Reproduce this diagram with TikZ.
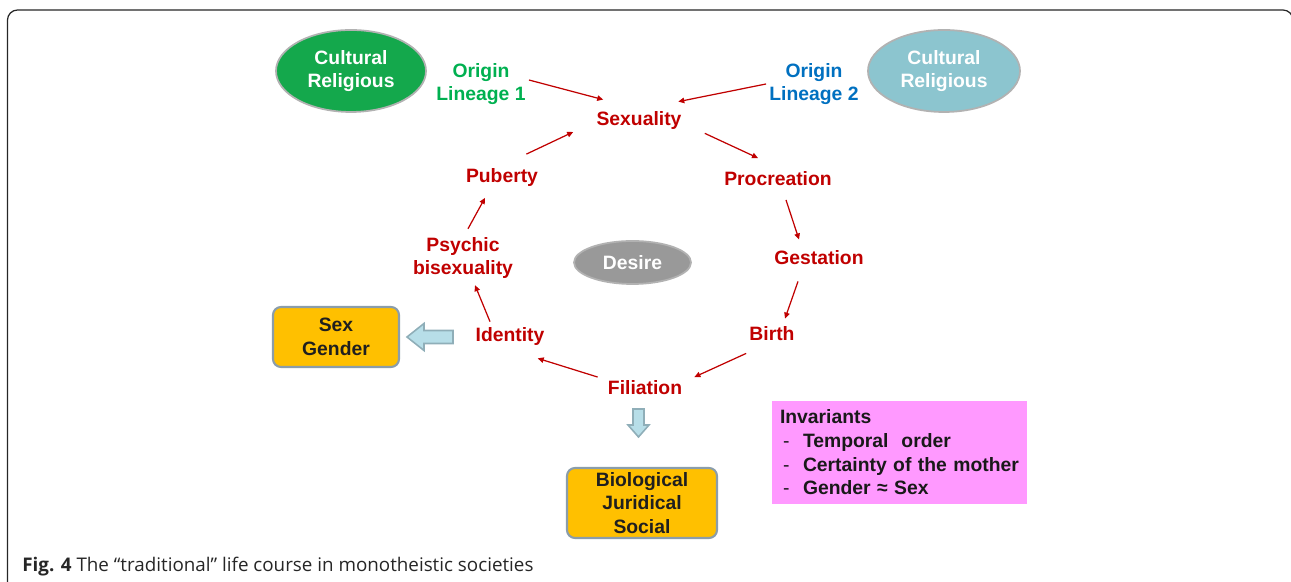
\documentclass[tikz,border=0pt]{standalone}
\usepackage{fontspec}
\setmainfont{Liberation Sans}
\newfontfamily\capfont{Open Sans}
\usetikzlibrary{arrows.meta,shapes.geometric}

\definecolor{lifered}{HTML}{C00000}
\definecolor{linegreen}{HTML}{00B050}
\definecolor{lineblue}{HTML}{0070C0}
\definecolor{ellgreen}{HTML}{14A84C}
\definecolor{ellblue}{HTML}{8CC5CF}
\definecolor{ellgray}{HTML}{999999}
\definecolor{boxyellow}{HTML}{FFC000}
\definecolor{boxedge}{HTML}{8A9DAB}
\definecolor{invpink}{HTML}{FF99FF}
\definecolor{hollowfill}{HTML}{B7DEE8}
\definecolor{hollowedge}{HTML}{8FAEB8}

\newcommand{\invdash}{\makebox[0.46cm][l]{\hspace{0.06cm}\textmd{-}}}

\tikzset{
    txt/.style={font=\bfseries\fontsize{11}{13.5}\selectfont, align=center, inner sep=0.06cm},
    stage/.style={txt, text=lifered},
    ell/.style={txt, ellipse, draw=gray!60, line width=1pt, text=white, inner sep=0pt},
    yellowbox/.style={txt, rounded corners=0.16cm, fill=boxyellow, draw=boxedge, line width=1.2pt, text=black!88},
    redarrow/.style={draw=lifered, line width=0.7pt, -{Triangle[length=1.2mm,width=1.1mm]}},
    hollow/.style={fill=hollowfill, draw=hollowedge, line width=0.9pt}
}

\begin{document}
\begin{tikzpicture}
                \useasboundingbox (0,0) rectangle (25.82,11.64);
                \clip (0,0) rectangle (25.82,11.64);

                \draw[line width=0.7pt, black!85, rounded corners=0.2cm] (0.15,-0.5) -- (0.15,11.44) -- (25.86,11.44) -- (25.86,-0.5);

                \node[ell, fill=ellgreen, minimum width=3cm, minimum height=1.64cm] (cult1) at (7.02,10.22) {Cultural\\Religious};
                \node[ell, fill=ellblue, minimum width=3.04cm, minimum height=1.64cm] (cult2) at (18.88,10.22) {Cultural\\Religious};
                \node[ell, fill=ellgray, minimum width=2.34cm, minimum height=0.86cm] (desire) at (12.65,6.39) {Desire};

                \node[txt, text=linegreen] (orig1) at (9.62,9.96) {Origin\\Lineage 1};
                \node[txt, text=lineblue] (orig2) at (16.28,9.96) {Origin\\Lineage 2};

                \node[stage] (sex) at (12.78,9.22) {Sexuality};
                \node[stage] (proc) at (15.56,8.07) {Procreation};
                \node[stage] (gest) at (16.38,6.48) {Gestation};
                \node[stage] (birth) at (15.44,4.96) {Birth};
                \node[stage] (fil) at (12.90,3.89) {Filiation};
                \node[stage] (ident) at (10.20,4.90) {Identity};
                \node[stage] (psych) at (9.26,6.48) {Psychic\\bisexuality};
                \node[stage] (pub) at (10.04,8.09) {Puberty};

                \draw[redarrow] ([yshift=0.08cm]orig1.east) -- ([xshift=0.2cm,yshift=0.18cm]sex.north west);
                \draw[redarrow] (orig2.west) -- ([xshift=-0.13cm,yshift=0.14cm]sex.north east);
                \draw[redarrow] ([xshift=0.4cm]sex.south east) -- ([xshift=-0.4cm,yshift=0.2cm]proc.north);
                \draw[redarrow] ([xshift=0.16cm,yshift=-0.22cm]proc.south) -- ([xshift=-0.4cm,yshift=0.16cm]gest.north);
                \draw[redarrow] ([xshift=-0.42cm,yshift=-0.26cm]gest.south) -- ([xshift=0.26cm,yshift=0.1cm]birth.north);
                \draw[redarrow] ([yshift=-0.18cm]birth.south west) -- ([xshift=0.18cm]fil.north east);
                \draw[redarrow] ([xshift=-0.14cm]fil.north west) -- ([xshift=-0.2cm,yshift=-0.18cm]ident.south east);
                \draw[redarrow] ([xshift=-0.4cm,yshift=0.06cm]ident.north) -- ([xshift=0.24cm,yshift=-0.06cm]psych.south);
                \draw[redarrow] ([xshift=0.1cm,yshift=0.1cm]psych.north) -- ([xshift=-0.34cm,yshift=-0.16cm]pub.south);
                \draw[redarrow] ([xshift=-0.3cm,yshift=0.22cm]pub.north east) -- ([xshift=-0.4cm,yshift=-0.22cm]sex.west);

                \node[yellowbox, minimum width=2.52cm, minimum height=1.2cm] (sexgen) at (6.72,4.90) {Sex\\Gender};
                \node[yellowbox, minimum width=3.0cm, minimum height=1.4cm] (bio) at (12.84,1.58) {Biological\\Juridical\\Social};

                \draw[hollow] (9.06,4.77) -- (8.48,4.77) -- (8.48,4.63) -- (8.14,4.90) -- (8.48,5.17) -- (8.48,5.03) -- (9.06,5.03) -- cycle;
                \draw[hollow] (12.66,3.46) -- (12.66,3.14) -- (12.56,3.14) -- (12.77,2.90) -- (12.98,3.14) -- (12.88,3.14) -- (12.88,3.46) -- cycle;

                \node[txt, fill=invpink, align=left, inner xsep=0.16cm, text width=4.78cm, minimum height=2.06cm, text=black!90] (inv) at (17.99,2.59)
                {Invariants\\\invdash Temporal\ \ order\\\invdash Certainty of the mother\\\invdash Gender ≈ Sex};

                \node[anchor=base west, inner sep=0pt, font=\capfont\fontsize{10.7}{12}\selectfont, text=black!85] (caption) at (0.44,0.2)
                {\textbf{Fig. 4} The “traditional” life course in monotheistic societies};
\end{tikzpicture}
\end{document}
